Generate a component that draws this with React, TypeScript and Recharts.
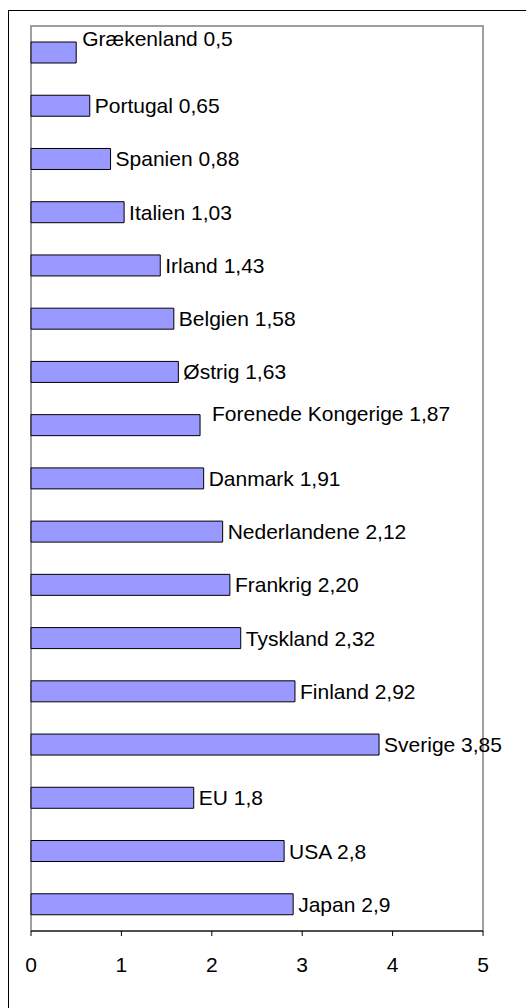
import React from 'react';
import { BarChart, Bar, XAxis, YAxis, LabelList, ReferenceArea } from 'recharts';

// countries, top to bottom
const countries = [
  'Grækenland', 'Portugal', 'Spanien', 'Italien', 'Irland', 'Belgien', 'Østrig',
  'Forenede Kongerige', 'Danmark', 'Nederlandene', 'Frankrig', 'Tyskland',
  'Finland', 'Sverige', 'EU', 'USA', 'Japan',
];
const values = [0.5, 0.65, 0.88, 1.03, 1.43, 1.58, 1.63, 1.87, 1.91, 2.12, 2.2, 2.32, 2.92, 3.85, 1.8, 2.8, 2.9];
// value text as printed in the labels
const valueText = ['0,5', '0,65', '0,88', '1,03', '1,43', '1,58', '1,63', '1,87', '1,91', '2,12', '2,20', '2,32', '2,92', '3,85', '1,8', '2,8', '2,9'];
const xTicks = [0, 1, 2, 3, 4, 5];

const data = countries.map((name, i) => ({ name, value: values[i], text: `${name} ${valueText[i]}` }));

// a couple of labels were moved by hand in the original
const nudge: Record<string, [number, number]> = {
  'Grækenland': [1, -14],
  'Forenede Kongerige': [7, -12],
};

const FONT = 'Liberation Sans, Arial, sans-serif';

function BarLabel(props: any) {
  const { x, y, width, height, index } = props;
  const d = data[index];
  const [dx, dy] = nudge[d.name] || [0, 0];
  return (
    <text
      x={x + width + 5 + dx}
      y={y + height / 2 + dy}
      dominantBaseline="central"
      fontFamily={FONT}
      fontSize={21}
      fill="#000"
    >
      {d.text}
    </text>
  );
}

export default function App() {
  return (
    <div style={{ position: 'absolute', left: 0, top: 0, width: 526, height: 1008, background: '#fff' }}>
      <div
        style={{
          position: 'absolute', left: 8, top: 10, width: 530, height: 1010,
          borderLeft: '1.5px solid #000', borderTop: '1.5px solid #000',
        }}
      />
      <div style={{ position: 'absolute', left: 0, top: 0 }}>
        <BarChart
          width={526}
          height={1008}
          data={data}
          layout="vertical"
          margin={{ top: 26, right: 43, left: 31, bottom: 37 }}
          barSize={21}
        >
          <ReferenceArea x1={0} x2={5} fill="none" stroke="#808080" strokeWidth={1.5} ifOverflow="visible" />
          <XAxis
            type="number"
            domain={[0, 5]}
            ticks={xTicks}
            height={40}
            axisLine={{ stroke: '#000', strokeWidth: 1.2 }}
            tickLine={{ stroke: '#000' }}
            tickSize={5}
            tickMargin={21}
            tick={{ fill: '#000', fontSize: 21, fontFamily: FONT }}
          />
          <YAxis type="category" dataKey="name" hide />
          <Bar dataKey="value" fill="#9999FF" stroke="#000" strokeWidth={1} isAnimationActive={false}>
            <LabelList dataKey="text" content={<BarLabel />} />
          </Bar>
        </BarChart>
      </div>
    </div>
  );
}
